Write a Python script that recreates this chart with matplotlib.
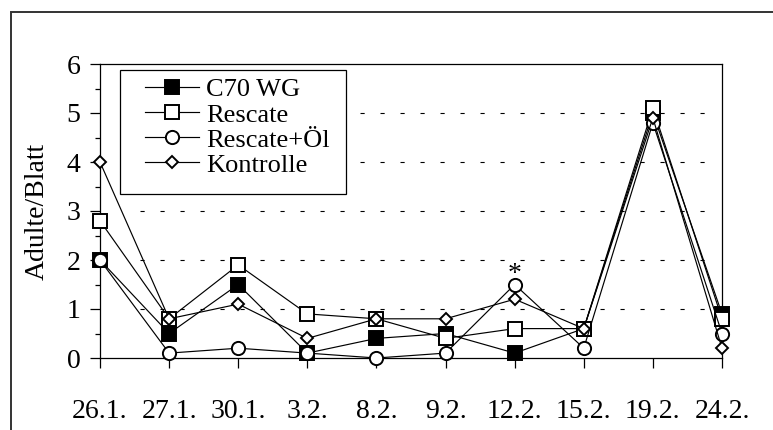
import matplotlib
matplotlib.use("Agg")
import matplotlib.pyplot as plt
from matplotlib.patches import Rectangle

plt.rcParams['font.family'] = ['Liberation Serif', 'DejaVu Serif']
plt.rcParams['lines.scale_dashes'] = False

dates = ["26.1.", "27.1.", "30.1.", "3.2.", "8.2.", "9.2.", "12.2.", "15.2.", "19.2.", "24.2."]
c70_wg = [2.0, 0.5, 1.5, 0.1, 0.4, 0.5, 0.1, 0.6, 5.0, 0.9]
rescate = [2.8, 0.8, 1.9, 0.9, 0.8, 0.4, 0.6, 0.6, 5.1, 0.8]
rescate_oel = [2.0, 0.1, 0.2, 0.1, 0.0, 0.1, 1.5, 0.2, 4.8, 0.5]
kontrolle = [4.0, 0.8, 1.1, 0.4, 0.8, 0.8, 1.2, 0.6, 4.9, 0.2]
y_ticks = [0, 1, 2, 3, 4, 5, 6]

W, H = 773, 430
fig = plt.figure(figsize=(W / 100, H / 100), dpi=100)
ax = fig.add_axes([100 / W, 1 - 358 / H, (722 - 100) / W, (358 - 64) / H])

x = list(range(len(dates)))

# dashed horizontal guides
for yv in y_ticks[1:-1]:
    ax.plot([0.58, 8.84], [yv, yv], color='black', lw=0.8,
            linestyle=(0, (3.0, 11.4)), zorder=1)

series = [
    ("C70 WG", c70_wg, dict(marker='s', markersize=10, markerfacecolor='black')),
    ("Rescate", rescate, dict(marker='s', markersize=10, markerfacecolor='white')),
    ("Rescate+Öl", rescate_oel, dict(marker='o', markersize=9.5, markerfacecolor='white')),
    ("Kontrolle", kontrolle, dict(marker='D', markersize=6.5, markerfacecolor='white')),
]
handles = []
for label, vals, style in series:
    ln, = ax.plot(x, vals, color='black', lw=0.85, markeredgecolor='black',
                  markeredgewidth=1.4, clip_on=False, zorder=3, label=label, **style)
    handles.append(ln)

ax.text(6, 1.45, "*", ha='center', va='bottom', fontsize=20)

ax.set_xlim(0, 9)
ax.set_ylim(0, 6)
ax.set_xticks(x)
ax.set_xticklabels(dates)
ax.set_yticks(y_ticks)
ax.set_yticks([0.5, 1.5, 2.5, 3.5, 4.5, 5.5], minor=True)
ax.tick_params(axis='both', which='major', direction='out', length=7.2, width=0.9,
               labelsize=20, color='black')
ax.tick_params(axis='x', pad=22)
ax.tick_params(axis='y', pad=7)
ax.tick_params(axis='y', which='minor', direction='out', length=3.6, width=0.9)
for sp in ax.spines.values():
    sp.set_linewidth(0.9)
    sp.set_color('black')

ax.set_ylabel("Adulte/Blatt", fontsize=20, labelpad=12)

# legend with a hand-placed frame
fig.patches.append(Rectangle((120 / W, 1 - 194 / H), (346 - 120) / W, (194 - 70) / H,
                             transform=fig.transFigure, facecolor='white',
                             edgecolor='black', lw=0.9, zorder=5))
leg = fig.legend(handles=handles, loc='upper left',
                 bbox_to_anchor=(145 / W, 1 - 78 / H), bbox_transform=fig.transFigure,
                 frameon=False, fontsize=19, handlelength=2.05, handletextpad=0.27,
                 labelspacing=0.06, borderpad=0, borderaxespad=0)
leg.set_zorder(6)

# outer border
fig.patches.append(Rectangle((11 / W, -0.1), 1.2, 1 - 12 / H + 0.1,
                             transform=fig.transFigure, facecolor='none',
                             edgecolor='#333333', lw=1.4, zorder=0))

fig.savefig("out.png", dpi=100)
